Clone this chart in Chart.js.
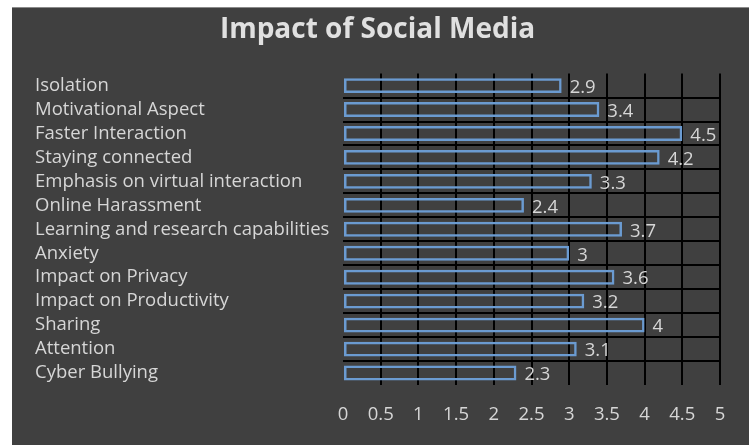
<!DOCTYPE html>
<html>
<head>
<meta charset="utf-8">
<script src="https://cdn.jsdelivr.net/npm/chart.js@4"></script>
<style>
  html, body { margin: 0; padding: 0; background: #ffffff; }
  .wrap { position: absolute; left: 12px; top: 7px; width: 737px; height: 438px; background: #404040; border-top: 1px solid #8a8a8a; box-sizing: border-box; }
</style>
</head>
<body>
<div class="wrap"><canvas id="chart" width="737" height="437"></canvas></div>
<script>
const categories = [
  'Isolation',
  'Motivational Aspect',
  'Faster Interaction',
  'Staying connected',
  'Emphasis on virtual interaction',
  'Online Harassment',
  'Learning and research capabilities',
  'Anxiety',
  'Impact on Privacy',
  'Impact on Productivity',
  'Sharing',
  'Attention',
  'Cyber Bullying'
]
const scores = [2.9, 3.4, 4.5, 4.2, 3.3, 2.4, 3.7, 3, 3.6, 3.2, 4, 3.1, 2.3]
const axisMin = 0
const axisMax = 5
const axisStep = 0.5

const textColor = '#d6d6d6'
const fontName = '"Open Sans"'

// value labels next to each bar end
const valueLabels = {
  id: 'valueLabels',
  afterDatasetsDraw(chart) {
    const { ctx } = chart
    const meta = chart.getDatasetMeta(0)
    ctx.save()
    ctx.font = '18.5px ' + fontName
    ctx.fillStyle = textColor
    ctx.textAlign = 'left'
    ctx.textBaseline = 'middle'
    meta.data.forEach((bar, i) => {
      ctx.fillText(String(scores[i]), bar.x + 8, bar.y + 2)
    })
    ctx.restore()
  }
}

new Chart(document.getElementById('chart'), {
  type: 'bar',
  data: {
    labels: categories,
    datasets: [{
      data: scores,
      backgroundColor: 'rgba(0,0,0,0)',
      borderColor: '#6b9bd1',
      borderWidth: 2.5,
      borderSkipped: false,
      categoryPercentage: 1,
      barPercentage: 0.62
    }]
  },
  options: {
    indexAxis: 'y',
    responsive: false,
    animation: false,
    layout: { padding: { left: 23, right: 29, top: 0, bottom: 0 } },
    plugins: {
      legend: { display: false },
      tooltip: { enabled: false },
      title: {
        display: true,
        text: 'Impact of Social Media',
        color: '#e0e0e0',
        font: { family: fontName, size: 28, weight: 'bold' },
        padding: { top: 5, bottom: 27 }
      }
    },
    scales: {
      x: {
        min: axisMin,
        max: axisMax,
        border: { display: false },
        grid: {
          drawTicks: false,
          lineWidth: 2,
          color: (c) => (c.type === 'tick' && c.index > 0) ? '#000000' : 'rgba(0,0,0,0)'
        },
        ticks: {
          stepSize: axisStep,
          autoSkip: false,
          maxRotation: 0,
          color: textColor,
          padding: 19,
          font: { family: fontName, size: 18.5 },
          callback: (v) => String(v)
        },
        afterFit(scale) { scale.height = 60 }
      },
      y: {
        border: { display: false },
        grid: {
          drawTicks: false,
          lineWidth: 2,
          color: (c) => (c.type === 'tick' && c.index > 0) ? '#000000' : 'rgba(0,0,0,0)'
        },
        ticks: {
          autoSkip: false,
          color: textColor,
          crossAlign: 'far',
          padding: 0,
          font: { family: fontName, size: 18.5 }
        },
        afterFit(scale) { scale.width = 308 }
      }
    }
  },
  plugins: [valueLabels]
})
</script>
</body>
</html>
